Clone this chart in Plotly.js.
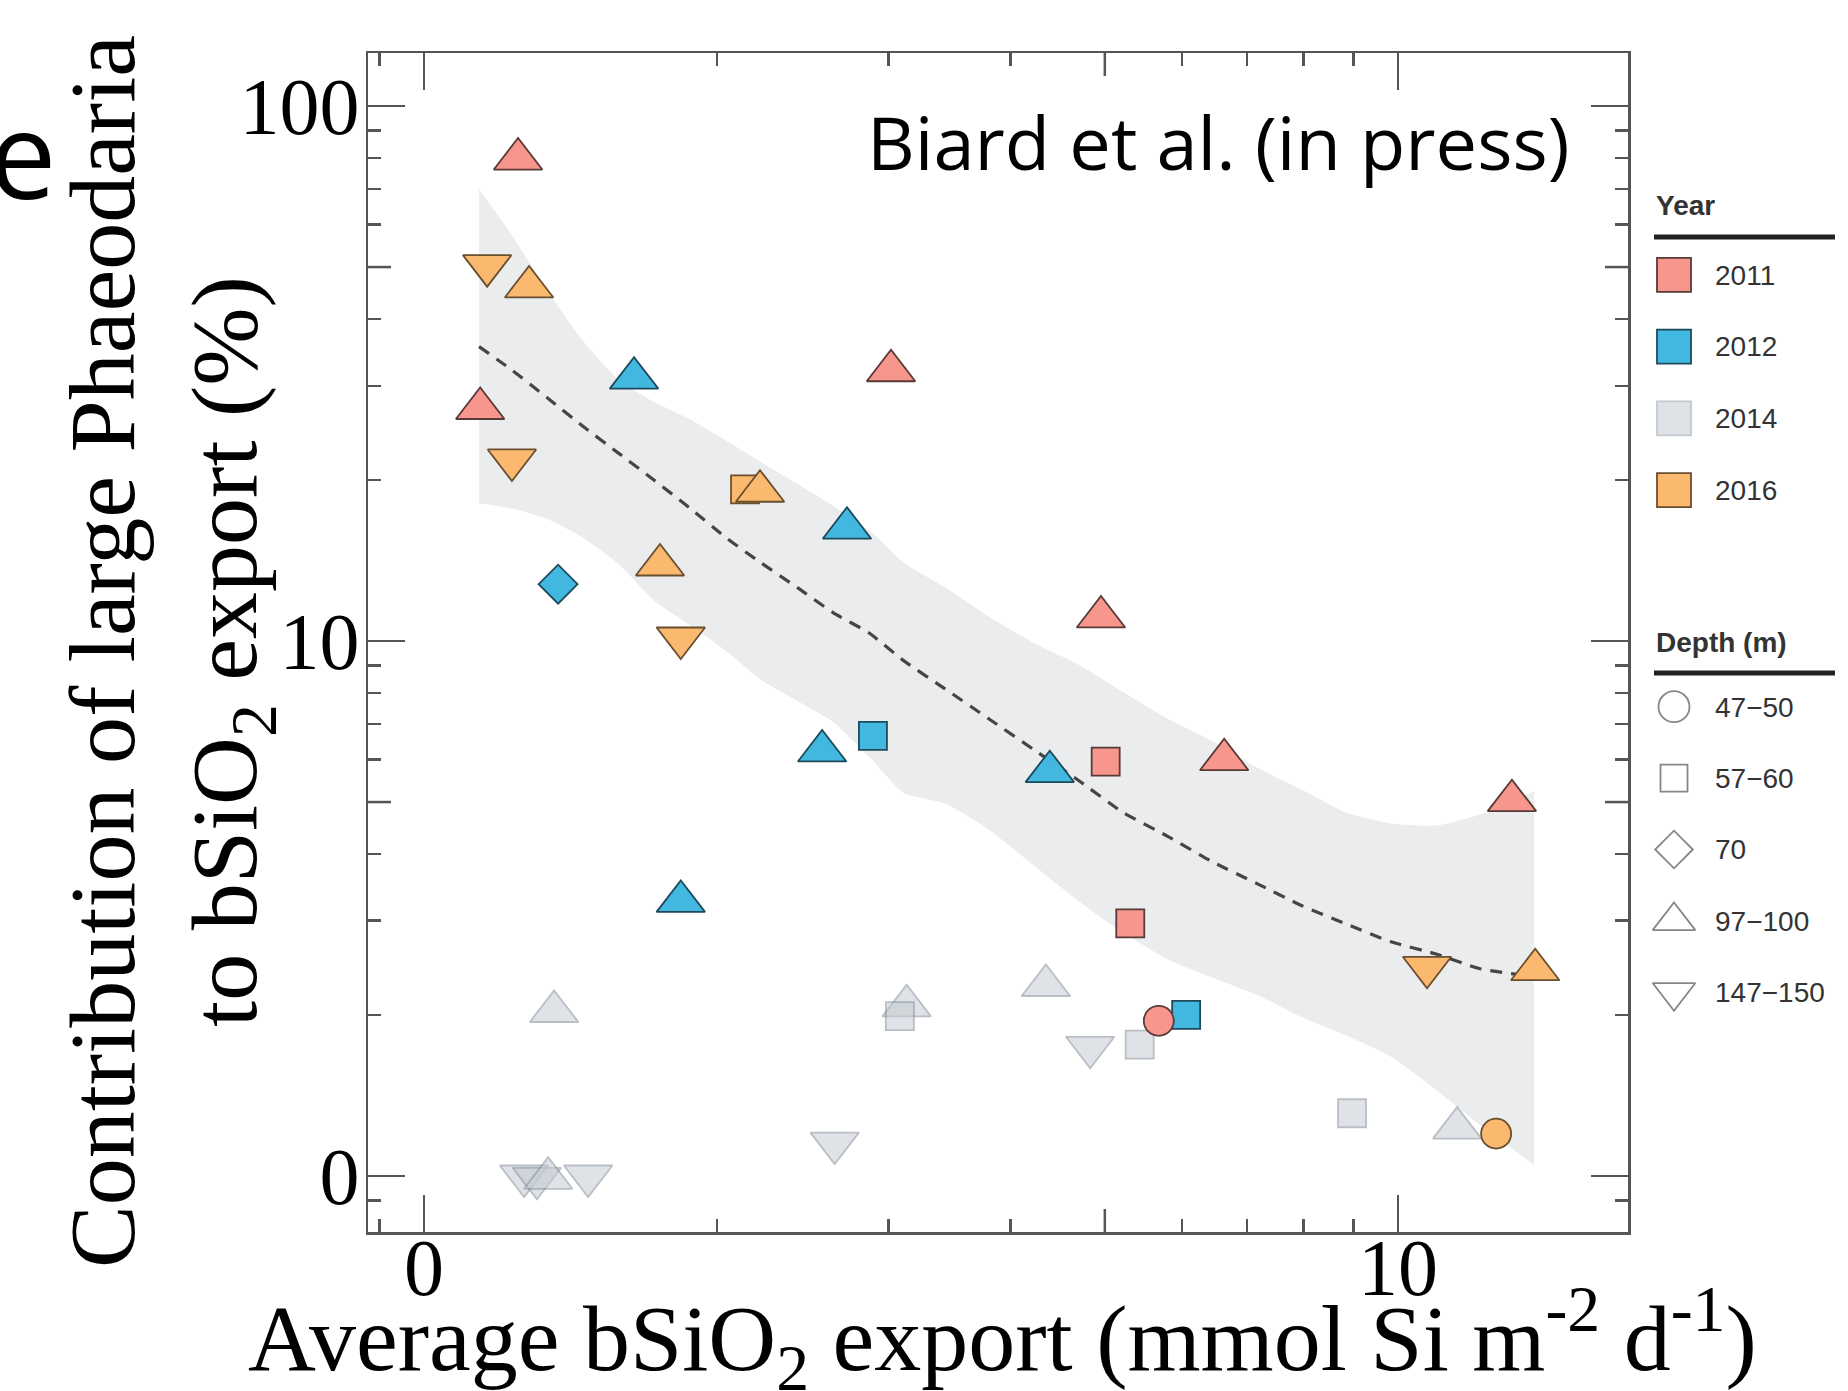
<!DOCTYPE html>
<html><head><meta charset="utf-8">
<script src="https://cdn.plot.ly/plotly-3.0.1.min.js"></script>
<style>html,body{margin:0;padding:0;background:#fff}#chart{width:1848px;height:1391px}</style>
</head><body><div id="chart"></div>
<script>
// ---------- data ----------
const x2011 = [1.249, 1.142, 3.016, 4.955, 5.01, 6.63, 5.31, 5.68, 13.09];
const y2011 = [79.6, 27.2, 32.0, 11.09, 5.95, 6.0, 2.965, 1.95, 5.03];
const d2011 = ['97−100','97−100','97−100','97−100','57−60','97−100','57−60','47−50','97−100'];

const x2012 = [1.643, 1.373, 2.718, 2.563, 2.89, 4.39, 1.835, 6.06];
const y2012 = [31.0, 12.77, 16.25, 6.23, 6.65, 5.70, 3.26, 2.0];
const d2012 = ['97−100','70','97−100','97−100','57−60','97−100','97−100','57−60'];

const x2014 = [1.36, 3.13, 3.08, 4.35, 4.83, 5.43, 8.97, 11.5, 2.64, 1.267, 1.306, 1.341, 1.474];
const y2014 = [2.03, 2.08, 1.99, 2.27, 1.74, 1.76, 1.31, 1.229, 1.152, 1.0, 0.99, 0.99, 1.0];
const d2014 = ['97−100','97−100','57−60','97−100','147−150','57−60','57−60','97−100','147−150','147−150','147−150','97−100','147−150'];

const x2016 = [1.161, 1.282, 1.231, 2.136, 2.213, 1.747, 1.835, 10.71, 13.83, 12.61];
const y2016 = [50.3, 45.9, 21.8, 19.2, 19.05, 13.87, 10.13, 2.455, 2.43, 1.20];
const d2016 = ['147−150','97−100','147−150','57−60','97−100','97−100','147−150','147−150','97−100','47−50'];

// smoother (dashed) and its confidence band
const bandX = [1.139, 1.228, 1.338, 1.456, 1.586, 1.722, 1.876, 2.042, 2.218, 2.415, 2.630, 2.864, 3.110, 3.427, 3.803, 4.230, 4.704, 5.221, 5.807, 6.442, 7.165, 7.969, 8.843, 9.835, 10.94, 12.14, 13.79];
const bandUpper = [69.9, 57.7, 45.2, 36.4, 30.7, 28.0, 25.95, 23.7, 21.6, 19.7, 17.9, 16.1, 14.0, 12.6, 11.1, 9.91, 9.02, 8.03, 7.15, 6.51, 5.80, 5.27, 4.78, 4.56, 4.52, 4.74, 5.23];
const bandLower = [18.1, 17.7, 16.9, 15.6, 13.9, 11.9, 10.7, 9.58, 8.46, 7.73, 7.06, 6.08, 5.20, 4.97, 4.44, 3.80, 3.26, 2.85, 2.54, 2.35, 2.18, 1.98, 1.83, 1.67, 1.45, 1.245, 1.048];
const fitY = [35.5, 32.2, 28.5, 25.2, 22.4, 20.0, 17.7, 15.6, 14.0, 12.6, 11.3, 10.35, 9.18, 8.14, 7.15, 6.26, 5.48, 4.78, 4.31, 3.87, 3.52, 3.20, 2.96, 2.74, 2.60, 2.44, 2.36];

// axis ticks
const xTickVals = [1, 10];
const xTickText = ['0', '10'];
const yTickVals = [1, 10, 100];
const yTickText = ['0', '10', '100'];
const xMinorTicks = [0.9, 2, 3, 4, 6, 7, 8, 9];
const yMinorTicks = [0.9, 2, 3, 4, 6, 7, 8, 9, 20, 30, 40, 60, 70, 80, 90];
const xMidTicks = [5];
const yMidTicks = [5, 50];

// legend categories
const legendYears = ['2011', '2012', '2014', '2016'];
const legendDepths = ['47−50', '57−60', '70', '97−100', '147−150'];

// ---------- styles ----------
const fillOf = {'2011': '#F6968C', '2012': '#42B8E0', '2014': '#C5CBD2', '2016': '#FBB96F'};
const lineOf = {'2011': '#5A3A36', '2012': '#1C4A5A', '2014': '#808C97', '2016': '#6A4F2F'};
const legendFill = {'2011': '#F6968C', '2012': '#42B8E0', '2014': '#DEE2E6', '2016': '#FBB96F'};
const legendLine = {'2011': '#5A3A36', '2012': '#1C4A5A', '2014': '#C3C9CE', '2016': '#6A4F2F'};
const symbolOf = {'47−50': 'circle', '57−60': 'square', '70': 'diamond', '97−100': 'triangle-up', '147−150': 'triangle-down'};
const sizeOf = {'circle': 30, 'square': 28, 'diamond': 30, 'triangle-up': 42, 'triangle-down': 42};
const legendSizeOf = {'circle': 31, 'square': 27, 'diamond': 29, 'triangle-up': 37, 'triangle-down': 37};

function yearTrace(year, x, y, depth, opacity) {
  const sym = depth.map(d => symbolOf[d]);
  return {
    type: 'scatter', mode: 'markers', x: x, y: y, xaxis: 'x', yaxis: 'y',
    showlegend: false, hoverinfo: 'skip', cliponaxis: false,
    marker: {symbol: sym, size: sym.map(s => sizeOf[s]), color: fillOf[year], opacity: opacity,
             line: {color: lineOf[year], width: 1.8}}
  };
}

const traces = [
  {type: 'scatter', mode: 'lines', x: bandX, y: bandLower, line: {width: 0, color: 'rgba(0,0,0,0)', shape: 'spline', smoothing: 0.6},
   showlegend: false, hoverinfo: 'skip'},
  {type: 'scatter', mode: 'lines', x: bandX, y: bandUpper, line: {width: 0, color: 'rgba(0,0,0,0)', shape: 'spline', smoothing: 0.6},
   fill: 'tonexty', fillcolor: '#EBECEE', showlegend: false, hoverinfo: 'skip'},
  {type: 'scatter', mode: 'lines', x: bandX, y: fitY, line: {color: '#454545', width: 3.2, dash: '12px,9px', shape: 'spline', smoothing: 0.6},
   showlegend: false, hoverinfo: 'skip'},
  yearTrace('2014', x2014, y2014, d2014, 0.55),
  yearTrace('2012', x2012, y2012, d2012, 1),
  yearTrace('2011', x2011, y2011, d2011, 1),
  yearTrace('2016', x2016, y2016, d2016, 1),
  // legend panels
  {type: 'scatter', mode: 'markers', x: legendYears.map(() => 0), y: legendYears, xaxis: 'x2', yaxis: 'y2',
   showlegend: false, hoverinfo: 'skip', cliponaxis: false,
   marker: {symbol: 'square', size: 34, color: legendYears.map(k => legendFill[k]),
            line: {color: legendYears.map(k => legendLine[k]), width: 1.8}}},
  {type: 'scatter', mode: 'markers', x: legendDepths.map(() => 0), y: legendDepths, xaxis: 'x2', yaxis: 'y3',
   showlegend: false, hoverinfo: 'skip', cliponaxis: false,
   marker: {symbol: legendDepths.map(d => symbolOf[d]), size: legendDepths.map(d => legendSizeOf[symbolOf[d]]),
            color: 'rgba(255,255,255,0)', line: {color: '#555', width: 1.8}}}
];

// ---------- layout ----------
const L = 368, T = 53, PW = 1480, PH = 1179;
const px = v => (v - L) / PW;
const py = v => (T + PH - v) / PH;

const serif = 'Liberation Serif, Times New Roman, serif';
const sans = 'Liberation Sans, Arial, sans-serif';
const tickCol = '#555';

const shapes = [];
xMidTicks.forEach(v => {
  shapes.push({type: 'line', xref: 'x', yref: 'y domain', x0: v, x1: v, ysizemode: 'pixel', yanchor: 0, y0: 0, y1: 23, line: {color: tickCol, width: 2.5}});
  shapes.push({type: 'line', xref: 'x', yref: 'y domain', x0: v, x1: v, ysizemode: 'pixel', yanchor: 1, y0: 0, y1: -23, line: {color: tickCol, width: 2.5}});
});
yMidTicks.forEach(v => {
  shapes.push({type: 'line', yref: 'y', xref: 'x domain', y0: v, y1: v, xsizemode: 'pixel', xanchor: 0, x0: 0, x1: 23, line: {color: tickCol, width: 2.5}});
  shapes.push({type: 'line', yref: 'y', xref: 'x domain', y0: v, y1: v, xsizemode: 'pixel', xanchor: 1, x0: 0, x1: -23, line: {color: tickCol, width: 2.5}});
});
shapes.push({type: 'line', xref: 'paper', yref: 'paper', x0: px(1654), x1: px(1835), y0: py(237), y1: py(237), line: {color: '#222', width: 5}});
shapes.push({type: 'line', xref: 'paper', yref: 'paper', x0: px(1654), x1: px(1835), y0: py(673), y1: py(673), line: {color: '#222', width: 5}});

const layout = {
  width: 1848, height: 1391,
  margin: {l: L, r: 0, t: T, b: 1391 - T - PH, pad: 0},
  paper_bgcolor: '#fff', plot_bgcolor: 'rgba(0,0,0,0)',
  showlegend: false,
  xaxis: {
    type: 'log', domain: [0, px(1628)], range: [-0.0575, 1.2361], anchor: 'y',
    tickmode: 'array', tickvals: xTickVals, ticktext: xTickText,
    ticks: 'inside', ticklen: 37, tickwidth: 2.5, tickcolor: tickCol,
    minor: {tickmode: 'array', tickvals: xMinorTicks, ticks: 'inside', ticklen: 13, tickwidth: 2.5, tickcolor: tickCol, showgrid: false},
    showline: true, linecolor: tickCol, linewidth: 2.5, mirror: 'ticks',
    showgrid: false, zeroline: false, ticklabelstandoff: -36,
    tickfont: {family: serif, size: 80, color: '#000'}
  },
  yaxis: {
    type: 'log', domain: [0, 1], range: [-0.1047, 2.0991], anchor: 'x',
    tickmode: 'array', tickvals: yTickVals, ticktext: yTickText,
    ticks: 'inside', ticklen: 37, tickwidth: 2.5, tickcolor: tickCol,
    minor: {tickmode: 'array', tickvals: yMinorTicks, ticks: 'inside', ticklen: 13, tickwidth: 2.5, tickcolor: tickCol, showgrid: false},
    showline: true, linecolor: tickCol, linewidth: 2.5, mirror: 'ticks',
    showgrid: false, zeroline: false, ticklabelstandoff: -10,
    tickfont: {family: serif, size: 80, color: '#000'}
  },
  xaxis2: {domain: [px(1654), px(1694)], range: [-1, 1], anchor: 'y2', visible: false, fixedrange: true},
  yaxis2: {domain: [py(526), py(239)], anchor: 'x2', side: 'right', type: 'category',
           categoryorder: 'array', categoryarray: legendYears, range: [3.5, -0.5],
           showline: false, showgrid: false, zeroline: false, ticks: '', ticklabelstandoff: 20,
           tickfont: {family: sans, size: 28, color: '#333'}, fixedrange: true},
  yaxis3: {domain: [py(1028), py(671)], anchor: 'x2', side: 'right', type: 'category',
           categoryorder: 'array', categoryarray: legendDepths, range: [4.5, -0.5],
           showline: false, showgrid: false, zeroline: false, ticks: '', ticklabelstandoff: 20,
           tickfont: {family: sans, size: 28, color: '#333'}, fixedrange: true},
  shapes: shapes,
  annotations: [
    {xref: 'paper', yref: 'paper', x: px(1002), y: py(1338), xanchor: 'center', yanchor: 'middle', showarrow: false,
     text: 'Average bSiO<sub>2</sub> export (mmol Si m<sup>-2</sup> d<sup>-1</sup>)', font: {family: serif, size: 94, color: '#000'}},
    {xref: 'paper', yref: 'paper', x: px(170), y: py(652), xanchor: 'center', yanchor: 'middle', textangle: -90, showarrow: false,
     text: 'Contribution of large Phaeodaria<br>to bSiO<sub>2</sub> export (%)', font: {family: serif, size: 94, color: '#000'}},
    {xref: 'paper', yref: 'paper', x: px(1572), y: py(142), xanchor: 'right', yanchor: 'middle', showarrow: false,
     text: 'Biard et al. (in press)', font: {family: 'Open Sans, sans-serif', size: 74, color: '#000'}},
    {xref: 'paper', yref: 'paper', x: px(58), y: py(152), xanchor: 'right', yanchor: 'middle', showarrow: false,
     text: 'e', font: {family: 'Open Sans, sans-serif', size: 120, color: '#000'}},
    {xref: 'paper', yref: 'paper', x: px(1654), y: py(205), xanchor: 'left', yanchor: 'middle', showarrow: false,
     text: '<b>Year</b>', font: {family: sans, size: 28, color: '#333'}},
    {xref: 'paper', yref: 'paper', x: px(1654), y: py(643), xanchor: 'left', yanchor: 'middle', showarrow: false,
     text: '<b>Depth (m)</b>', font: {family: sans, size: 28, color: '#333'}}
  ]
};

Plotly.newPlot('chart', traces, layout, {staticPlot: true, displayModeBar: false});
</script></body></html>
